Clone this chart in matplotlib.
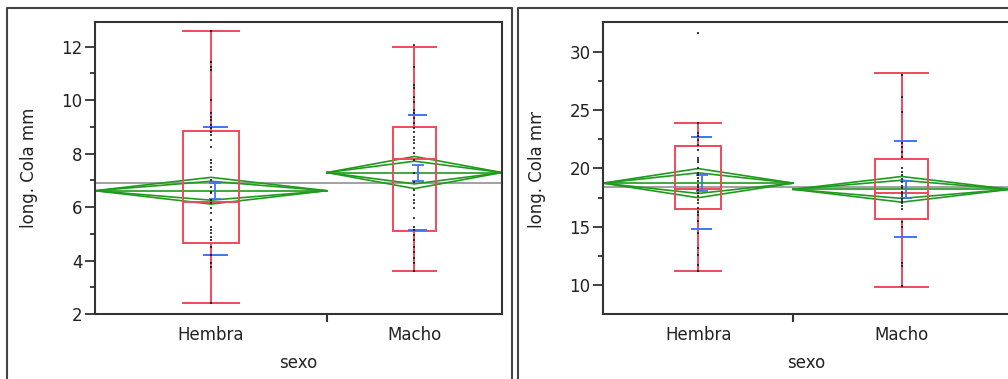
import numpy as np
import matplotlib.pyplot as plt
from matplotlib.lines import Line2D
from matplotlib.transforms import Bbox

groups = ['Hembra', 'Macho']

# panel 1
left_n = [57, 43]
left_pts = [
    [12.6, 11.44, 11.25, 11.13, 10.0, 9.51, 9.38, 9.26, 9.07, 8.95, 8.82, 8.70, 8.51, 8.26,
     7.76, 7.64, 7.51, 7.39, 7.01, 6.76, 6.58, 6.52, 6.26, 6.14, 5.95, 5.77, 5.52, 5.27,
     5.14, 5.02, 4.89, 4.77, 4.52, 4.21, 3.90, 3.77, 2.42],
    [12.06, 11.25, 10.57, 10.44, 10.13, 9.94, 9.63, 9.51, 9.32, 9.13, 8.95, 8.82, 8.63,
     8.51, 8.39, 8.20, 8.01, 7.76, 7.26, 6.95, 6.64, 6.45, 6.26, 6.14, 5.95, 5.58, 5.27,
     5.14, 4.96, 4.77, 4.52, 4.33, 4.08, 3.90, 3.62],
]
left_min = [2.42, 3.62]
left_q1 = [4.67, 5.12]
left_med = [6.18, 7.81]
left_q3 = [8.86, 9.01]
left_max = [12.6, 12.0]
left_mean = [6.61, 7.29]
left_sd = [2.40, 2.15]
left_se = [0.30, 0.30]
left_ci = [0.50, 0.60]
left_grand = 6.91

# panel 2
right_n = [36, 41]
right_pts = [
    [31.6, 23.9, 23.0, 22.8, 22.4, 22.0, 21.6, 20.9, 20.7, 20.5, 20.0, 19.6, 19.4, 19.2,
     18.9, 18.6, 18.4, 18.1, 17.9, 17.6, 17.3, 17.0, 16.6, 16.3, 16.0, 15.5, 14.5, 13.2,
     12.6, 11.7, 11.2],
    [28.0, 26.1, 24.8, 22.2, 21.8, 21.4, 21.0, 20.0, 19.7, 19.4, 19.1, 18.8, 18.5, 18.3,
     18.0, 17.8, 17.6, 17.4, 17.2, 17.0, 16.8, 16.5, 15.4, 15.0, 11.9, 11.6, 9.9],
]
right_min = [11.2, 9.86]
right_q1 = [16.49, 15.66]
right_med = [18.25, 17.88]
right_q3 = [21.95, 20.78]
right_max = [23.86, 28.15]
right_mean = [18.73, 18.2]
right_sd = [3.93, 4.1]
right_se = [0.70, 0.70]
right_ci = [1.25, 1.10]
right_grand = 18.39

RED = '#ee4a5a'
BLUE = '#3f74f5'
GREEN = '#1f9a1f'
GRAY = '#9a9a9a'
DARK = '#333333'

W, H = 1008, 379
fig = plt.figure(figsize=(W / 100, H / 100), dpi=100)


def fx(px):
    return px / W


def fy(px):
    return 1 - px / H


def draw_panel(ax, n, pts, vmin, q1, med, q3, vmax, mean, sd, se, ci, grand):
    edges = np.concatenate([[0], np.cumsum(n) / np.sum(n)])
    centers = []
    ax.axhline(grand, color=GRAY, lw=1.3, zorder=1)
    for i in range(len(n)):
        x0, x1 = edges[i], edges[i + 1]
        w = x1 - x0
        c = (x0 + x1) / 2
        centers.append(c)
        # means diamond + overlap diamond
        for h in [ci[i], ci[i] / np.sqrt(2)]:
            ax.plot([x0, c, x1, c, x0], [mean[i], mean[i] + h, mean[i], mean[i] - h, mean[i]],
                    color=GREEN, lw=1.2, zorder=2)
        ax.plot([x0, x1], [mean[i], mean[i]], color=GREEN, lw=1.2, zorder=2)
        # box plot
        bw = 0.245 * w
        ax.add_patch(plt.Rectangle((c - bw / 2, q1[i]), bw, q3[i] - q1[i], fill=False,
                                   edgecolor=RED, lw=1.4, zorder=3))
        ax.plot([c - bw / 2, c + bw / 2], [med[i], med[i]], color=RED, lw=1.4, zorder=3)
        ax.plot([c, c], [vmin[i], q1[i]], color=RED, lw=1.4, zorder=3)
        ax.plot([c, c], [q3[i], vmax[i]], color=RED, lw=1.4, zorder=3)
        ax.plot([c - bw / 2, c + bw / 2], [vmin[i], vmin[i]], color=RED, lw=1.4, zorder=3)
        ax.plot([c - bw / 2, c + bw / 2], [vmax[i], vmax[i]], color=RED, lw=1.4, zorder=3)
        # std dev lines and mean error bar
        bc = c + 0.018 * w
        sw = 0.1 * w
        for v in [mean[i] - sd[i], mean[i] + sd[i]]:
            ax.plot([bc - sw / 2, bc + sw / 2], [v, v], color=BLUE, lw=1.4, zorder=4)
        ax.errorbar([bc], [mean[i]], yerr=[se[i]], color=BLUE, lw=1.3, capsize=4,
                    capthick=1.3, zorder=4)
        # points
        ax.plot([c] * len(pts[i]), pts[i], 's', color='#111111', ms=1.7, mew=0,
                alpha=0.8, zorder=5)
    ax.set_xlim(0, 1)
    ax.set_xticks(centers)
    ax.set_xticklabels(groups)
    ax.set_xticks(edges[1:-1], minor=True)
    ax.tick_params(axis='x', which='major', length=0, pad=9, labelsize=12, labelcolor='#222222')
    ax.tick_params(axis='x', which='minor', length=6, width=1.5, color=DARK)
    ax.tick_params(axis='y', which='major', length=7, width=1.3, color=DARK, pad=2,
                   labelsize=12, labelcolor='#222222')
    ax.tick_params(axis='y', which='minor', length=3.5, width=1.3, color=DARK)
    for s in ax.spines.values():
        s.set_color(DARK)
        s.set_linewidth(1.5)


axes_y0 = fy(314)
axes_h = fy(21.7) - fy(314)
ax1 = fig.add_axes([fx(95), axes_y0, fx(502) - fx(95), axes_h])
ax2 = fig.add_axes([fx(603), axes_y0, fx(1010) - fx(603), axes_h])

draw_panel(ax1, left_n, left_pts, left_min, left_q1, left_med, left_q3, left_max,
           left_mean, left_sd, left_se, left_ci, left_grand)
ax1.set_ylim(2, 12.93)
ax1.set_yticks([2, 4, 6, 8, 10, 12])
ax1.set_yticks([3, 5, 7, 9, 11], minor=True)

draw_panel(ax2, right_n, right_pts, right_min, right_q1, right_med, right_q3, right_max,
           right_mean, right_sd, right_se, right_ci, right_grand)
ax2.set_ylim(7.52, 32.56)
ax2.set_yticks([10, 15, 20, 25, 30])
ax2.set_yticks([12.5, 17.5, 22.5, 27.5], minor=True)

# outer frames
frame_kw = dict(color='#444444', lw=1.5, transform=fig.transFigure)
fig.add_artist(Line2D([fx(7), fx(7), fx(512), fx(512)], [0, fy(8), fy(8), 0], **frame_kw))
fig.add_artist(Line2D([fx(518), fx(518), 1.0], [0, fy(8), fy(8)], **frame_kw))

# axis titles
fig.text(fx(29), fy(168), 'long. Cola mm', rotation=90, ha='center', va='center',
         fontsize=12, color='#222222')
t2 = fig.text(fx(537), fy(168), 'long. Cola mm', rotation=90, ha='center', va='center',
              fontsize=12, color='#222222')
t2.set_clip_box(Bbox.from_extents(500, 0, 600, H - 112))
t2.set_clip_on(True)
fig.text(fx(298.5), fy(363), 'sexo', ha='center', va='center', fontsize=12, color='#222222')
fig.text(fx(806.5), fy(363), 'sexo', ha='center', va='center', fontsize=12, color='#222222')

fig.savefig('out.png', dpi=100)
